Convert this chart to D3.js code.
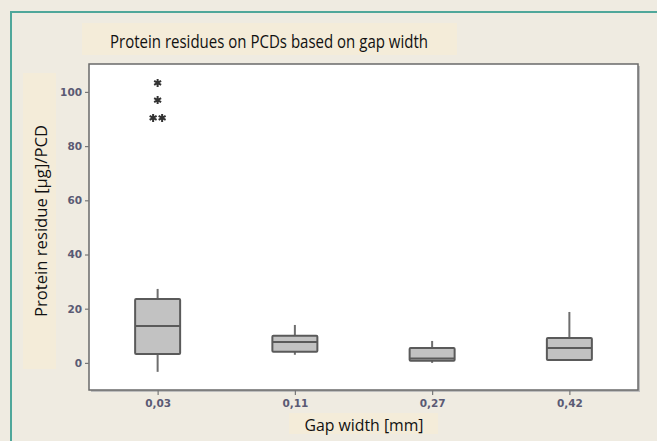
<!DOCTYPE html>
<html><head><meta charset="utf-8">
<script src="https://cdn.jsdelivr.net/npm/d3@7"></script>
<style>body{margin:0;background:#efebe1;}svg{display:block;}</style>
</head><body>
<script>
const categories = ["0,03", "0,11", "0,27", "0,42"];
const q1 = [3.3, 4.1, 0.8, 1.1];
const median = [13.6, 7.7, 1.6, 5.5];
const q3 = [23.6, 10.0, 5.5, 9.2];
const whiskerLow = [-3.3, 3.0, 0.0, 1.1];
const whiskerHigh = [27.3, 14.0, 8.1, 18.8];
const outlierCat = ["0,03", "0,03", "0,03", "0,03"];
const outlierVal = [103.3, 97.0, 90.4, 90.4];
const outlierShift = [0, 0, -1, 1];
const yTicks = [0, 20, 40, 60, 80, 100];

const W = 657, H = 441;
const svg = d3.select("body").append("svg").attr("width", W).attr("height", H);
svg.append("rect").attr("width", W).attr("height", H).attr("fill", "#efebe1");
// frame
svg.append("line").attr("x1", 11).attr("x2", 11).attr("y1", 11).attr("y2", H).attr("stroke", "#4fa79a").attr("stroke-width", 2);
svg.append("line").attr("x1", 10).attr("x2", W).attr("y1", 12).attr("y2", 12).attr("stroke", "#4fa79a").attr("stroke-width", 2);

// label boxes
svg.append("rect").attr("x", 82).attr("y", 23).attr("width", 375).attr("height", 32).attr("fill", "#f4ecd9");
svg.append("rect").attr("x", 23).attr("y", 73).attr("width", 33).attr("height", 296).attr("fill", "#f4ecd9");
svg.append("rect").attr("x", 289).attr("y", 413).attr("width", 149).attr("height", 21).attr("fill", "#f4ecd9");

svg.append("text").attr("x", 269).attr("y", 48).attr("text-anchor", "middle")
  .attr("font-family", "Open Sans").attr("font-size", 18).attr("fill", "#111")
  .attr("textLength", 318).attr("lengthAdjust", "spacingAndGlyphs")
  .text("Protein residues on PCDs based on gap width");
svg.append("text").attr("transform", "translate(47,221) rotate(-90)").attr("text-anchor", "middle")
  .attr("font-family", "Open Sans").attr("font-size", 16).attr("fill", "#111")
  .attr("textLength", 192).attr("lengthAdjust", "spacingAndGlyphs")
  .text("Protein residue [µg]/PCD");
svg.append("text").attr("x", 364).attr("y", 431).attr("text-anchor", "middle")
  .attr("font-family", "Open Sans").attr("font-size", 16).attr("fill", "#111")
  .attr("textLength", 119).attr("lengthAdjust", "spacingAndGlyphs")
  .text("Gap width [mm]");

const L = 89, R = 638, T = 64, B = 390;
const x = d3.scalePoint().domain(categories).range([L, R]).padding(0.5);
const y = d3.scaleLinear().domain([-10, 110.3]).range([B, T]);

// plot area with shadow
svg.append("rect").attr("x", L + 2).attr("y", T + 2).attr("width", R - L).attr("height", B - T).attr("fill", "#bdbdbd");
svg.append("rect").attr("x", L).attr("y", T).attr("width", R - L).attr("height", B - T).attr("fill", "#fff").attr("stroke", "#6a6a6a").attr("stroke-width", 1.5);

const tickStyle = g => {
  g.select(".domain").remove();
  g.selectAll("line").attr("stroke", "#777").attr("stroke-width", 1.2);
  g.selectAll("text").attr("font-family", "DejaVu Sans").attr("font-size", 10.5).attr("font-weight", "bold").attr("fill", "#5a5a74");
};
svg.append("g").attr("transform", `translate(${L},0)`)
  .call(d3.axisLeft(y).tickValues(yTicks).tickSize(4).tickPadding(3))
  .call(tickStyle);
svg.append("g").attr("transform", `translate(0,${B})`)
  .call(d3.axisBottom(x).tickSize(5).tickPadding(5))
  .call(tickStyle);

const bw = 45;
const g = svg.append("g");
categories.forEach((c, i) => {
  const cx = x(c);
  g.append("line").attr("x1", cx).attr("x2", cx).attr("y1", y(whiskerHigh[i])).attr("y2", y(q3[i])).attr("stroke", "#6e6e6e").attr("stroke-width", 2);
  g.append("line").attr("x1", cx).attr("x2", cx).attr("y1", y(q1[i])).attr("y2", y(whiskerLow[i])).attr("stroke", "#6e6e6e").attr("stroke-width", 2);
  g.append("rect").attr("x", cx - bw / 2).attr("y", y(q3[i])).attr("width", bw).attr("height", y(q1[i]) - y(q3[i]))
    .attr("fill", "#c2c2c2").attr("stroke", "#5a5a5a").attr("stroke-width", 2).attr("rx", 1);
  g.append("line").attr("x1", cx - bw / 2).attr("x2", cx + bw / 2).attr("y1", y(median[i])).attr("y2", y(median[i])).attr("stroke", "#5a5a5a").attr("stroke-width", 2);
});
const sym = d3.symbol(d3.symbolAsterisk, 45);
outlierVal.forEach((v, i) => {
  svg.append("path").attr("d", sym())
    .attr("transform", `translate(${x(outlierCat[i]) + outlierShift[i] * 4.5},${y(v)})`)
    .attr("fill", "none").attr("stroke", "#333").attr("stroke-width", 2);
});
</script>
</body></html>
